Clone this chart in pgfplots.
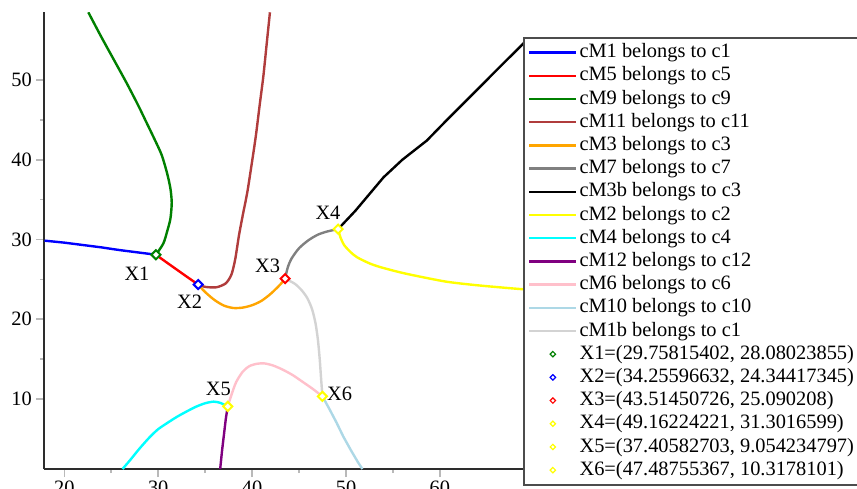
\documentclass[border=0pt]{standalone}
\usepackage{fontspec}
\setmainfont{Liberation Serif}
\usepackage{pgfplots}
\pgfplotsset{compat=1.18}

\definecolor{cgreen}{RGB}{0,128,0}
\definecolor{cbrown}{RGB}{176,60,60}
\definecolor{corange}{RGB}{255,165,0}
\definecolor{cgray}{RGB}{128,128,128}
\definecolor{cyellow}{RGB}{255,255,0}
\definecolor{ccyan}{RGB}{0,255,255}
\definecolor{cpurple}{RGB}{128,0,128}
\definecolor{cpink}{RGB}{255,192,203}
\definecolor{clightblue}{RGB}{173,216,230}
\definecolor{clightgray}{RGB}{211,211,211}

\pgfplotsset{
  curve/.style={line width=1.2pt, no markers},
  scurve/.style={curve, smooth, tension=0.45},
  ipoint/.style={only marks, mark=square*, mark size=1.6pt,
    mark options={rotate=45, fill=white, draw=#1, line width=1pt},
    legend image code/.code={\draw[only marks, mark=square*, mark size=0.95pt,
      mark options={rotate=45, fill=white, draw=#1, line width=0.6pt}]
      plot coordinates {(11.75pt,0pt)};}},
}

\begin{document}
\begin{tikzpicture}
\begin{axis}[
  scale only axis,
  width=239.35pt, height=228.35pt,
  xmin=17.87, xmax=68.85, ymin=1.2, ymax=58.5,
  axis lines=left,
  axis line style={-, draw=gray!35!black, line width=1pt},
  xtick={20,30,40,50,60}, ytick={10,20,30,40,50},
  minor tick num=1,
  tick align=outside,
  major tick length=4pt, minor tick length=2pt,
  tick style={draw=gray!55, line width=0.8pt},
  ticklabel style={font=\fontsize{10.2}{12}\selectfont, inner sep=2pt},
  /pgf/number format/assume math mode=true,
  legend cell align=left,
  legend image code/.code={\draw[#1] (0pt,0pt) -- (23.5pt,0pt);},
  legend style={at={(1,0.9459)}, anchor=north west,
    draw=gray!60!black, line width=0.75pt, fill=white,
    inner xsep=2.2pt, inner ysep=1.6pt, row sep=0pt,
    font=\fontsize{10.2}{12}\selectfont,
    nodes={inner xsep=1pt, inner ysep=1pt, text height=7.4pt, text depth=2.2pt}},
]
% cM1
\addplot[curve, blue] coordinates {
  (17.9,29.85) (19,29.72) (20,29.6) (21,29.45) (22,29.3) (23,29.15) (24,29.0)
  (25,28.82) (26,28.65) (27,28.5) (28,28.35) (29,28.2) (29.758,28.08)};
\addlegendentry{cM1 belongs to c1}
% cM5
\addplot[curve, red] coordinates {
  (29.758,28.08) (30.8,27.2) (32,26.2) (33.2,25.2) (34.256,24.344)};
\addlegendentry{cM5 belongs to c5}
% cM9
\addplot[scurve, cgreen] coordinates {
  (29.758,28.08) (30.55,29.5) (30.95,31.0) (31.3,32.6) (31.44,34.6)
  (31.3,36.4) (30.95,38.3) (30.37,40.6) (29.6,42.6) (28.7,44.8) (27.88,46.8)
  (26.65,49.6) (25.3,52.5) (23.9,55.5) (22.56,58.5)};
\addlegendentry{cM9 belongs to c9}
% cM11
\addplot[scurve, cbrown] coordinates {
  (34.256,24.344) (35.0,24.05) (36.2,24.0) (37.2,24.5) (37.8,25.6)
  (38.2,27.5) (38.6,30.5) (39.0,33.0) (39.5,36.0) (40.0,39.8)
  (40.4,43.0) (40.8,46.8) (41.2,50.5) (41.55,54.5) (41.9,58.5)};
\addlegendentry{cM11 belongs to c11}
% cM3
\addplot[scurve, corange] coordinates {
  (34.256,24.344) (35.0,23.4) (36.0,22.4) (37.0,21.7) (38.0,21.4)
  (39.0,21.45) (40.0,21.75) (41.0,22.3) (42.0,23.2) (43.0,24.35) (43.515,25.09)};
\addlegendentry{cM3 belongs to c3}
% cM7
\addplot[scurve, cgray] coordinates {
  (43.515,25.09) (43.8,26.5) (44.2,27.6) (45.0,28.9) (46.0,29.9)
  (47.0,30.6) (48.0,31.0) (49.162,31.302)};
\addlegendentry{cM7 belongs to c7}
% cM3b
\addplot[curve, black] coordinates {
  (49.162,31.302) (51.0,33.6) (54.0,37.8) (56.0,40.0) (58.6,42.4)
  (61.0,45.3) (63.9,48.7) (66.0,51.2) (69.5,55.3)};
\addlegendentry{cM3b belongs to c3}
% cM2
\addplot[scurve, cyellow] coordinates {
  (49.162,31.302) (49.4,30.3) (49.8,29.3) (50.5,28.4) (51.2,27.75)
  (52.5,27.0) (53.6,26.55) (55.5,25.95) (57.2,25.5) (60.7,24.7)
  (64.0,24.25) (67.8,23.85) (69.5,23.7)};
\addlegendentry{cM2 belongs to c2}
% cM4
\addplot[scurve, ccyan] coordinates {
  (26.2,1.2) (27.0,2.3) (28.0,3.75) (29.1,5.2) (30.0,6.2) (31.0,7.0)
  (32.0,7.75) (33.0,8.4) (34.0,9.0) (35.0,9.45) (35.9,9.65) (36.6,9.5) (37.406,9.054)};
\addlegendentry{cM4 belongs to c4}
% cM12
\addplot[curve, cpurple] coordinates {
  (37.406,9.054) (37.2,7.5) (37.0,5.5) (36.8,3.5) (36.6,1.2)};
\addlegendentry{cM12 belongs to c12}
% cM6
\addplot[scurve, cpink] coordinates {
  (37.406,9.054) (37.8,10.5) (38.3,12.1) (39.0,13.4) (39.7,14.1)
  (40.5,14.4) (41.3,14.45) (42.2,14.2) (43.2,13.7) (44.3,13.0)
  (45.3,12.2) (46.4,11.3) (47.488,10.318)};
\addlegendentry{cM6 belongs to c6}
% cM10
\addplot[curve, clightblue] coordinates {
  (47.488,10.318) (48.2,8.8) (49.0,7.0) (49.7,5.3) (50.5,3.6) (51.3,2.0) (51.75,1.2)};
\addlegendentry{cM10 belongs to c10}
% cM1b
\addplot[scurve, clightgray] coordinates {
  (43.515,25.09) (44.0,24.8) (44.6,24.4) (45.3,23.6) (45.9,22.6)
  (46.4,21.2) (46.75,19.5) (47.0,17.5) (47.2,15.0) (47.35,12.5) (47.488,10.318)};
\addlegendentry{cM1b belongs to c1}
% intersection points
\addplot[ipoint=cgreen] coordinates {(29.75815402,28.08023855)};
\addlegendentry{X1=(29.75815402, 28.08023855)}
\addplot[ipoint=blue] coordinates {(34.25596632,24.34417345)};
\addlegendentry{X2=(34.25596632, 24.34417345)}
\addplot[ipoint=red] coordinates {(43.51450726,25.090208)};
\addlegendentry{X3=(43.51450726, 25.090208)}
\addplot[ipoint=cyellow] coordinates {(49.16224221,31.3016599)};
\addlegendentry{X4=(49.16224221, 31.3016599)}
\addplot[ipoint=cyellow] coordinates {(37.40582703,9.054234797)};
\addlegendentry{X5=(37.40582703, 9.054234797)}
\addplot[ipoint=cyellow] coordinates {(47.48755367,10.3178101)};
\addlegendentry{X6=(47.48755367, 10.3178101)}
% point names
\begin{scope}[every node/.style={font=\fontsize{10.2}{12}\selectfont, inner sep=0pt}]
\node at (axis cs:27.74,25.73) {X1};
\node at (axis cs:33.35,22.17) {X2};
\node at (axis cs:41.66,26.7) {X3};
\node at (axis cs:48.08,33.35) {X4};
\node at (axis cs:36.4,11.2) {X5};
\node at (axis cs:49.33,10.58) {X6};
\end{scope}
\end{axis}
\pgfresetboundingbox
\path[use as bounding box] (-22.15pt,-9.5pt) rectangle (406.35pt,234.5pt);
\end{tikzpicture}
\end{document}
